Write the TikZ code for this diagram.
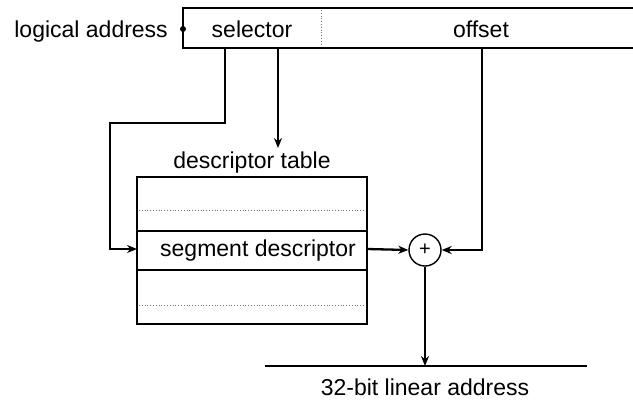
\documentclass[tikz,border=0pt]{standalone}
\usepackage{fontspec}
\setmainfont{Liberation Sans}
\usetikzlibrary{arrows.meta}
\begin{document}
\begin{tikzpicture}[x=1pt,y=-1pt,
  lbl/.style={font=\fontsize{23}{27}\selectfont, inner sep=0pt},
  boxline/.style={line width=1.5pt},
  conn/.style={line width=2.3pt},
  arr/.style={conn,-{Stealth[length=10pt,width=8pt]}},
  faint/.style={line width=0.8pt, dotted, black!55}
]
\useasboundingbox (0,0) rectangle (633,400);
% logical address box (open at right)
\draw[boxline] (640,8) -- (183,8) -- (183,48) -- (640,48);
\draw[faint] (321,10) -- (321,46);
\node[lbl, anchor=base east] (la) at (168,37) {logical address};
\fill (183,29) circle (3pt);
\node[lbl, anchor=base] (sel) at (252,37) {selector};
\node[lbl, anchor=base] (off) at (481,37) {offset};
\coordinate (s1) at (225,48);
\coordinate (s2) at (278,48);
\coordinate (o1) at (482,48);
% descriptor table
\node[lbl, anchor=base] (dtl) at (252,168) {descriptor table};
\node[boxline, draw, minimum width=230pt, minimum height=147pt, inner sep=0pt] (tbl) at (252,250.5) {};
\draw[faint] (139,210) -- (365,210);
\draw[boxline] (tbl.west |- 0,231) -- (tbl.east |- 0,231);
\draw[boxline] (tbl.west |- 0,270) -- (tbl.east |- 0,270);
\draw[faint] (139,305) -- (365,305);
\node[lbl, anchor=base] (seg) at (258,256) {segment descriptor};
\coordinate (segW) at (137,249);
\coordinate (segE) at (367,249);
% adder
\node[draw, circle, line width=1.4pt, minimum size=32pt, inner sep=0pt, font=\fontsize{20}{22}\selectfont] (add) at (425,250) {+};
% output line
\coordinate (outL) at (265,366);
\coordinate (outR) at (587,366);
\draw[line width=1.8pt] (outL) -- (outR);
\coordinate (outP) at (425,366);
\node[lbl, anchor=base] (lin) at (425,395) {32-bit linear address};
% connectors
\draw[arr] (s1) -- (225,123) -- (110,123) -- (110,249) -- (segW);
\draw[arr] (s2) -- (278,148);
\draw[arr] (segE) -- (add.west);
\draw[arr] (o1) -- (o1 |- add.east) -- (add.east);
\draw[arr] (add.south) -- (outP);
\end{tikzpicture}
\end{document}
